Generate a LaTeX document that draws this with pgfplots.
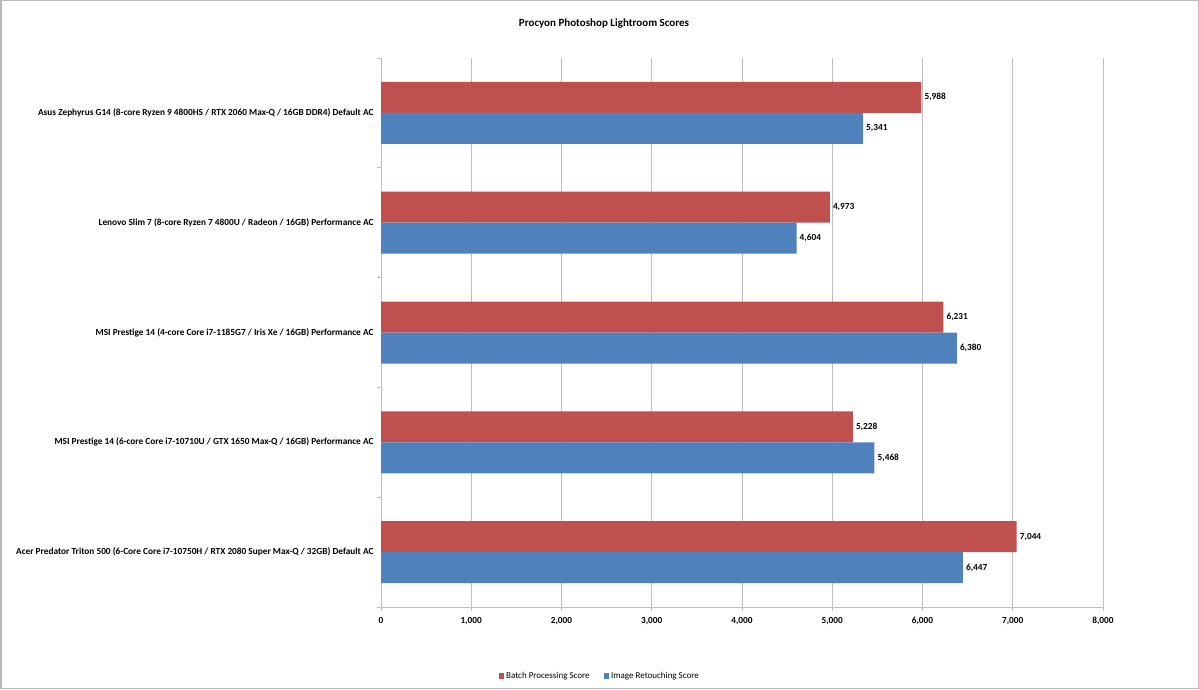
\documentclass[border=0pt]{standalone}
\usepackage{pgfplots}
\pgfplotsset{compat=1.18}
\usepackage{fontspec}
\setmainfont{Carlito}
\definecolor{batch}{HTML}{C0504D}
\definecolor{retouch}{HTML}{4F81BD}
\definecolor{gridc}{HTML}{BFBFBF}
\begin{document}
\begin{tikzpicture}
\useasboundingbox (0pt,0pt) rectangle (1199pt,689pt);
\draw[gray!55, line width=1.5pt] (0.75pt,0.75pt) rectangle (1198.25pt,688.25pt);
\node[font=\bfseries\fontsize{11}{13}\selectfont] at (604pt,665pt) {Procyon Photoshop Lightroom Scores};
\begin{axis}[
  at={(381pt,82pt)}, anchor=south west,
  scale only axis, width=722pt, height=549pt,
  xbar, bar width=31pt,
  xmin=0, xmax=8000, ymin=-0.5, ymax=4.5,
  xtick={0,1000,...,8000},
  scaled x ticks=false,
  /pgf/number format/.cd, fixed, precision=0, 1000 sep={,}, assume math mode=true,
  /pgfplots/.cd,
  ytick={-0.5,0.5,1.5,2.5,3.5,4.5},
  y tick label as interval,
  yticklabels={
    Acer Predator Triton 500 (6-Core Core i7-10750H / RTX 2080 Super Max-Q / 32GB) Default AC,
    MSI Prestige 14 (6-core Core i7-10710U / GTX 1650 Max-Q / 16GB) Performance AC,
    MSI Prestige 14 (4-core Core i7-1185G7 / Iris Xe / 16GB) Performance AC,
    Lenovo Slim 7 (8-core Ryzen 7 4800U / Radeon / 16GB) Performance AC,
    Asus Zephyrus G14 (8-core Ryzen 9 4800HS / RTX 2060 Max-Q / 16GB DDR4) Default AC},
  tick label style={font=\bfseries\fontsize{9.3}{11}\selectfont, text=black},
  yticklabel style={xshift=0pt},
  xticklabel style={yshift=-3pt},
  axis x line*=bottom, axis y line*=left,
  axis line style={gridc, line width=0.8pt},
  tick align=outside, major tick length=4pt,
  tick style={gridc, line width=0.8pt},
  xmajorgrids, grid style={gridc, line width=0.8pt},
  point meta=x,
  nodes near coords={\pgfmathprintnumber[fixed,precision=0,1000 sep={,},assume math mode=true]{\pgfplotspointmeta}},
  nodes near coords style={font=\bfseries\fontsize{9.3}{11}\selectfont, text=black, anchor=west, inner sep=1pt, xshift=2pt},
  legend columns=2,
  legend style={at={(0.303,-0.1257)}, anchor=center, draw=none, font=\fontsize{9}{11}\selectfont,
    /tikz/every even column/.append style={column sep=12pt}},
  legend image code/.code={\fill[#1] (0pt,-2.5pt) rectangle (5.5pt,3pt);},
]
\addplot[fill=batch, draw=none, bar shift=15.5pt] coordinates {(7044,0) (5228,1) (6231,2) (4973,3) (5988,4)};
\addlegendentry{Batch Processing Score}
\addplot[fill=retouch, draw=none, bar shift=-15.5pt] coordinates {(6447,0) (5468,1) (6380,2) (4604,3) (5341,4)};
\addlegendentry{Image Retouching Score}
\end{axis}
\end{tikzpicture}
\end{document}
